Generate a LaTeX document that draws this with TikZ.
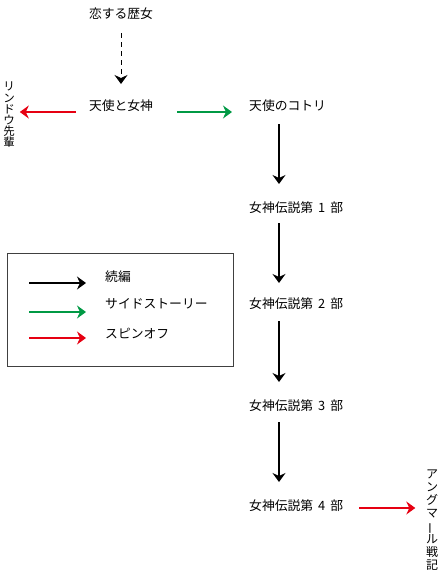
\documentclass[tikz,border=0pt]{standalone}
\usepackage{fontspec}
\setmainfont{Noto Sans CJK JP}
\usetikzlibrary{arrows.meta}
\definecolor{spinRed}{HTML}{E60012}
\definecolor{sideGreen}{HTML}{009944}

\begin{document}
\begin{tikzpicture}[
    x=1pt, y=-1pt,
    font=\fontsize{12.8}{14}\selectfont,
    work/.style={
        inner sep=1pt, align=center
    },
    vwork/.style={
        inner sep=1pt, align=center, font=\fontsize{11.5}{11.2}\selectfont
    },
    sequelEdge/.style={
        -{Stealth[length=9pt, width=13pt, inset=3pt]}, line width=1.4pt, draw=black
    },
    sideEdge/.style={
        -{Stealth[length=9pt, width=13pt, inset=3pt]}, line width=1.4pt, draw=sideGreen
    },
    spinEdge/.style={
        -{Stealth[length=9pt, width=13pt, inset=3pt]}, line width=1.4pt, draw=spinRed
    },
    originEdge/.style={
        -{Stealth[length=9pt, width=13pt, inset=3pt]}, line width=0.9pt, draw=black, dash pattern=on 5pt off 4pt
    },
    legendBox/.style={
        draw=black!75, line width=0.8pt
    }
]
\useasboundingbox (0,0) rectangle (440,579);

% Top: origin and the first work
\node[work] (koi) at (121, 14) {恋する歴女};
\node[work] (tenshi) at (121, 106) {天使と女神};
\draw[originEdge] (koi.south) ++(0,12) coordinate (koiTop) -- (121, 84) coordinate (koiEnd);

% Side branches of the first work
\node[vwork, anchor=north] (rindou) at (9, 81) {リ\\ン\\ド\\ウ\\先\\輩};
\node[work, anchor=west] (kotori) at (248, 106) {天使のコトリ};
\draw[spinEdge] (tenshi.west) ++(-12,6) -- ++(-56,0);
\draw[sideEdge] (kotori.west) ++(-71,6) -- ++(55,0);

% Main line: the four parts
\node[work, anchor=west] (part1) at (248, 208) {女神伝説第\hspace{5pt}1\hspace{5pt}部};
\node[work, anchor=west] (part2) at (248, 304) {女神伝説第\hspace{5pt}2\hspace{5pt}部};
\node[work, anchor=west] (part3) at (248, 406) {女神伝説第\hspace{5pt}3\hspace{5pt}部};
\node[work, anchor=west] (part4) at (248, 506) {女神伝説第\hspace{5pt}4\hspace{5pt}部};

\draw[sequelEdge] (kotori.south -| 279,0) ++(0,11) -- (279, 184);
\draw[sequelEdge] (part1.south -| 279,0) ++(0,8) -- (279, 283);
\draw[sequelEdge] (part2.south -| 279,0) ++(0,10) -- (279, 382);
\draw[sequelEdge] (part3.south -| 279,0) ++(0,9) -- (279, 482);

% Spin-off of part 4
\node[vwork, font=\fontsize{12}{13}\selectfont, anchor=north] (angmar) at (432, 469) {ア\\ン\\グ\\マ\\\rotatebox[origin=c]{90}{ー}\\ル\\戦\\記};
\draw[spinEdge] (part4.east) ++(15,2) -- ++(56,0);

% Legend
\node[legendBox, minimum width=226pt, minimum height=113pt, anchor=north west] (legend) at (7, 253) {};
\coordinate (keyA) at (29, 283);
\coordinate (keyB) at (29, 312);
\coordinate (keyC) at (29, 338);
\draw[sequelEdge] (keyA) -- ++(57,0) coordinate (keyAEnd);
\draw[sideEdge] (keyB) -- ++(57,0) coordinate (keyBEnd);
\draw[spinEdge] (keyC) -- ++(57,0) coordinate (keyCEnd);
\node[work, anchor=west] (keyAText) at (104, 277) {続編};
\node[work, anchor=west] (keyBText) at (104, 304) {サイドストーリー};
\node[work, anchor=west] (keyCText) at (104, 333) {スピンオフ};

\end{tikzpicture}
\end{document}
